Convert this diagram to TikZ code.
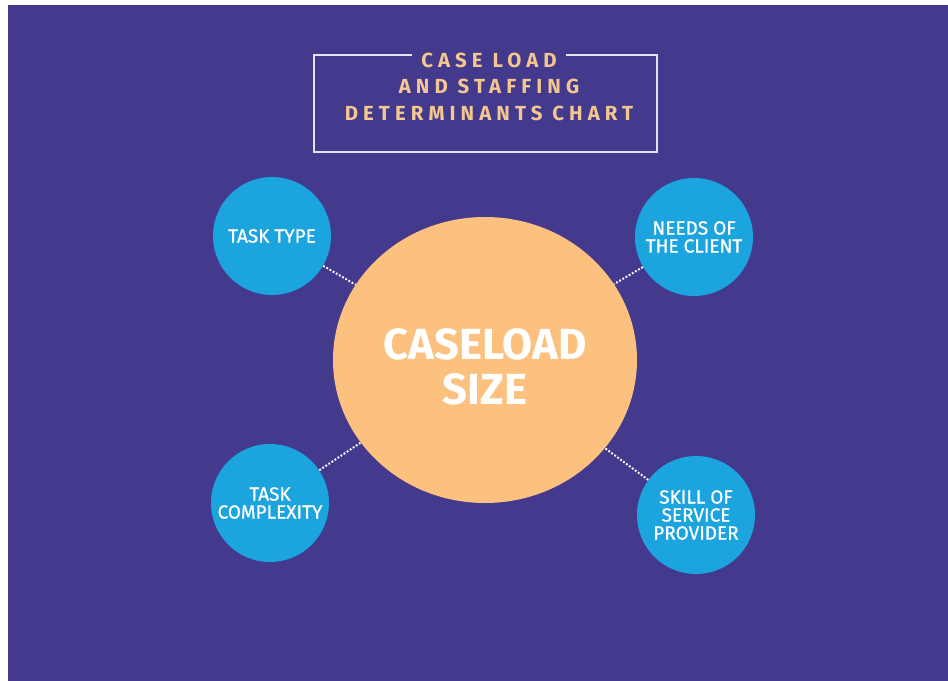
\documentclass[tikz,border=0pt]{standalone}
\usepackage{fontspec}
\setmainfont{Fira Sans}
\newfontfamily\spacedfont{Fira Sans}[LetterSpace=25]
\newfontfamily\mediumfont{Fira Sans}[FakeBold=0.8]
\usetikzlibrary{shapes.geometric}
\definecolor{bgpurple}{RGB}{67,58,141}
\definecolor{skyblue}{RGB}{28,164,223}
\definecolor{peach}{RGB}{252,193,127}
\definecolor{titlepeach}{RGB}{244,198,144}
\definecolor{boxline}{RGB}{228,228,240}
\tikzset{%
        x = 0.25mm,
        y = -0.25mm
}
\tikzstyle{factor}=[
    circle,
    fill = skyblue,
    text = white,
    minimum size = 29.5mm,
    inner sep = 0pt,
    align = center,
    font = \fontsize{13.5}{12.8}\mediumfont
]
\tikzstyle{hub}=[
    ellipse,
    fill = peach,
    text = white,
    minimum width = 76mm,
    minimum height = 71.5mm,
    inner sep = 0pt,
    align = center,
    font = \fontsize{31}{32}\selectfont\bfseries
]
\tikzstyle{every edge}=[
    draw = white,
    line width = 1.4pt,
    dash pattern = on 1.3pt off 1.3pt
]

\begin{document}
\begin{tikzpicture}
        \useasboundingbox (0,0) rectangle (948,681);
        \fill[white] (0,0) rectangle (948,681);
        \fill[bgpurple] (8,5) rectangle (948,681);
        % title
        \node[draw = boxline, line width = 1.4pt, minimum width = 85.75mm,
            minimum height = 24.25mm] (box) at (485.5,103.5) {};
        \node[fill = bgpurple, text = titlepeach, inner xsep = 2.2mm, inner ysep = 0pt,
            font = \fontsize{14.5}{14.5}\spacedfont\bfseries] (head) at (489,60) {CASE LOAD};
        \node[text = titlepeach, align = center,
            font = \fontsize{14.5}{18.8}\spacedfont\bfseries] (sub) at (489,100) {AND STAFFING\\DETERMINANTS CHART};
        % circles
        \node[hub] (0) at (485,360) {\rule{0pt}{11mm}CASELOAD\\SIZE};
        \node[factor] (1) at (272,236) {TASK TYPE};
        \node[factor] (2) at (694,237) {NEEDS OF\\THE CLIENT};
        \node[factor] (3) at (270,503) {TASK\\COMPLEXITY};
        \node[factor] (4) at (696,515) {SKILL OF\\SERVICE\\PROVIDER};
        \path
        (1) edge (0)
        (2) edge (0)
        (3) edge (0)
        (4) edge (0)
        ;
    \end{tikzpicture}
\end{document}
